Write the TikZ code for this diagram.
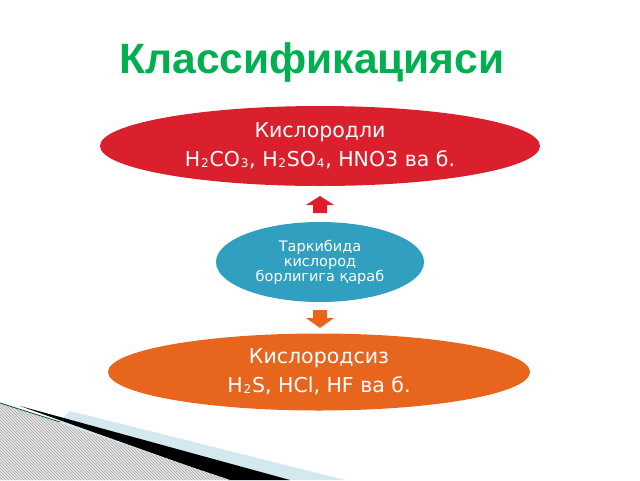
\documentclass[tikz,border=0pt]{standalone}
\usepackage{fontspec}
\setmainfont{DejaVu Sans}
\newfontfamily\titlefont{Liberation Sans}
\usetikzlibrary{shapes.geometric,patterns}
\definecolor{titlegreen}{RGB}{0,176,80}
\definecolor{ellred}{RGB}{218,31,45}
\definecolor{ellblue}{RGB}{49,160,192}
\definecolor{ellorange}{RGB}{232,101,30}
\definecolor{bandblue}{RGB}{212,232,240}
\newcommand{\lowidx}[1]{\kern0.8pt\raisebox{-0.1ex}{\fontsize{12}{12}\selectfont #1}\kern0.8pt}
\tikzset{
  bigell/.style={ellipse, inner sep=0pt, text=white, align=center,
    font=\fontsize{20.5}{29}\selectfont},
  smallell/.style={ellipse, inner sep=0pt, text=white, align=center,
    font=\fontsize{14.5}{15}\selectfont},
  titletext/.style={font=\titlefont\bfseries\fontsize{42.5}{42.5}\selectfont, text=titlegreen},
}
\begin{document}
\begin{tikzpicture}[x=1pt,y=-1pt]
\useasboundingbox (0,0) rectangle (640,480);
\fill[white] (0,0) rectangle (640,480);
% bottom-left decoration
\fill[bandblue] (70,411) -- (345,480) -- (0,480) -- cycle;
\fill[black] (20,406) -- (290,480) -- (228,480) -- cycle;
\fill[gray!20] (0,403) -- (230,480) -- (0,480) -- cycle;
\fill[pattern=north west lines, pattern color=gray!70] (0,403) -- (230,480) -- (0,480) -- cycle;
\draw[teal!60!black, line width=0.8pt] (0,403) -- (60,422);
% title
\node[titletext] (title) at (312,63) {Классификацияси};
% ellipses
\node[bigell, fill=ellred, minimum width=440pt, minimum height=80pt] (top) at (320,146)
  {Кислородли\\H\lowidx{2}CO\lowidx{3}, H\lowidx{2}SO\lowidx{4}, HNO3 ва б.};
\node[smallell, fill=ellblue, minimum width=208pt, minimum height=80pt] (mid) at (320,262)
  {Таркибида\\кислород\\борлигига қараб};
\node[bigell, fill=ellorange, minimum width=422pt, minimum height=77pt] (bot) at (319,372)
  {Кислородсиз\\H\lowidx{2}S, HCl, HF ва б.};
% block arrows
\fill[ellred] (306,205) -- (320,196) -- (334,205) -- (327,205) -- (327,213) -- (313,213) -- (313,205) -- cycle;
\fill[ellorange] (313,310) -- (327,310) -- (327,318) -- (334,318) -- (320,328) -- (306,318) -- (313,318) -- cycle;
\end{tikzpicture}
\end{document}
